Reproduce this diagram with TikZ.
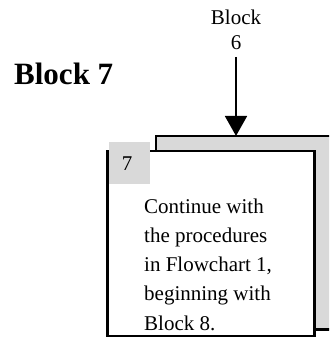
\documentclass[tikz,border=0pt]{standalone}
\usepackage{fontspec}
\setmainfont{Liberation Serif}
\usetikzlibrary{arrows.meta}
\definecolor{boxgray}{RGB}{217,217,217}
\tikzset{
  bodytext/.style={font=\fontsize{21}{29.2}\selectfont, inner sep=0pt, align=left},
  panel/.style={draw=black, line width=2.2pt, rectangle, outer sep=0pt, inner sep=0pt},
  flowarrow/.style={line width=2.7pt, -{Triangle[width=21.7pt,length=20pt]}}
}
\begin{document}
\begin{tikzpicture}[x=1pt,y=1pt]
\useasboundingbox (0,0) rectangle (329,-339);
\clip (0,0) rectangle (329,-339);
% title
\node[font=\bfseries\fontsize{31}{35}\selectfont, inner sep=0pt, anchor=base west] (title) at (14,-85) {Block 7};
% incoming label
\node[font=\fontsize{21}{25}\selectfont, inner sep=0pt, anchor=base] (b6a) at (236,-25) {Block};
\node[font=\fontsize{21}{25}\selectfont, inner sep=0pt, anchor=base] (b6b) at (236,-50) {6};
\coordinate (arrowtop) at (236,-57);
% back panel
\node[panel, fill=boxgray, minimum width=189pt, minimum height=193.5pt] (back) at (250.5,-232.75) {};
% front panel
\node[panel, fill=white, minimum width=207pt, minimum height=185pt] (front) at (211,-243.5) {};
% number tab
\node[fill=boxgray, minimum width=41.5pt, minimum height=42pt, inner sep=0pt, outer sep=0pt] (tab) at (129.25,-163.3) {};
\node[font=\fontsize{21}{24}\selectfont, inner sep=0pt, anchor=base] (num) at (127,-170.5) {7};
% body text
\node[bodytext, anchor=base west] (body) at (144,-330) {Continue with\\the procedures\\in Flowchart 1,\\beginning with\\Block 8.};
% connector
\draw[flowarrow] (arrowtop) -- (arrowtop |- back.north);
\end{tikzpicture}
\end{document}
